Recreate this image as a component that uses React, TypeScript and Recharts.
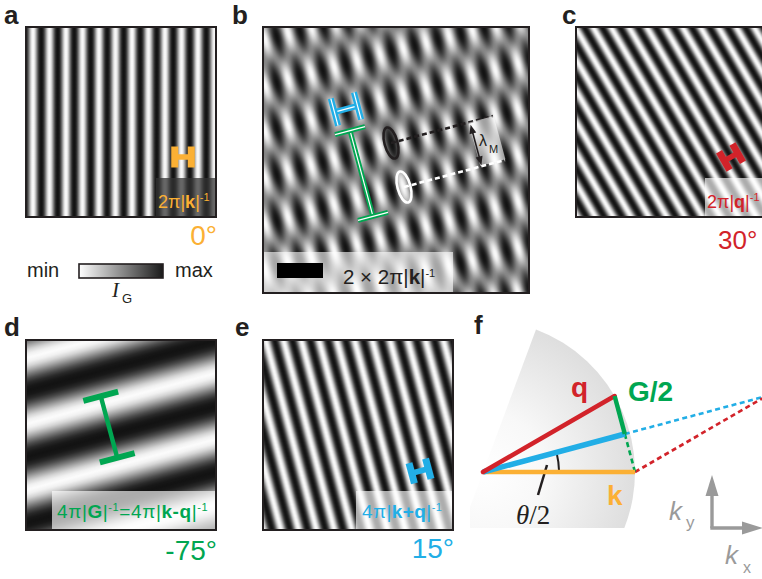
import React from "react";
import {
  ScatterChart,
  Scatter,
  XAxis,
  YAxis,
  ReferenceArea,
  ReferenceLine,
  ReferenceDot,
} from "recharts";

const INK = "#231F20";
const ORANGE = "#FBB034";
const RED = "#D2232A";
const GREEN = "#00A651";
const BLUE = "#22AEE6";
const GREY = "#9A9A9A";
const SANS = "'Liberation Sans', Arial, sans-serif";
const SERIF = "'Liberation Serif', 'Times New Roman', serif";

// single gratings (a, c, d, e): wave-vector angle in degrees, fringe period in units of 2π|k|^-1
const gratingPanels = ["a", "c", "d", "e"];
const gratingAngles = [0, 30, -75, 15];
const gratingPeriods = [1, 1, 3.86, 1.04];
const angleLabels = ["0°", "30°", "-75°", "15°"];

// panel b: k and q gratings added together
const moireAngles = [0, 30];
const moirePeriods = [1, 1];
const fastAngle = 15; // k+q
const fastPeriod = 1.04; // 4π|k+q|^-1
const slowAngle = -75; // G = k-q
const slowPeriod = 3.86; // 4π|G|^-1
const scaleBarUnits = 2; // 2 × 2π|k|^-1

// panel f: wave vectors, |k| = 1
const kVec = { x: 1, y: 0 };
const qVec = { x: 0.866, y: 0.5 };

type Pt = { x: number; y: number };
type Box = { left: number; top: number; size: number; unit: number };

const PAD = 2;
const boxes: Record<string, Box> = {
  a: { left: 26, top: 27, size: 190, unit: 16.5 },
  b: { left: 263, top: 27, size: 266, unit: 23 },
  c: { left: 576, top: 27, size: 190, unit: 15.5 },
  d: { left: 26, top: 340, size: 190, unit: 16.5 },
  e: { left: 263, top: 340, size: 190, unit: 16.5 },
};

const panelStyle: Record<string, any> = {
  a: { color: ORANGE, bar: [183, 157], cap: 21, width: 7, tag: [156, 178, 216, 216], tagFill: "#333", tagOpacity: 0.74, shift: 9 },
  c: { color: RED, bar: [731, 157], cap: 21, width: 7, tag: [705, 178, 766, 216], tagFill: "#fff", tagOpacity: 0.65, shift: 0 },
  d: { color: GREEN, bar: [109, 427], cap: 36, width: 6, tag: [52, 491, 216, 530], tagFill: "#fff", tagOpacity: 0.65, shift: 20 },
  e: { color: BLUE, bar: [420, 471], cap: 21, width: 7, tag: [356, 491, 453, 530], tagFill: "#fff", tagOpacity: 0.65, shift: 4 },
};
const moireShifts = [4.2, -3.6];

const F = { left: 470, top: 300, width: 292, height: 279, unit: 152, ox: 483, oy: 472 };

const noDot = () => <g />;

// bar of given length along the wave vector, with perpendicular end caps
function barSegments(c: Pt, angleDeg: number, length: number, cap: number) {
  const t = (angleDeg * Math.PI) / 180;
  const u = { x: Math.cos(t), y: Math.sin(t) };
  const v = { x: -u.y, y: u.x };
  const end = (s: number) => ({ x: c.x + (u.x * s * length) / 2, y: c.y + (u.y * s * length) / 2 });
  const a = end(-1);
  const b = end(1);
  const tick = (p: Pt) => [
    { x: p.x - (v.x * cap) / 2, y: p.y - (v.y * cap) / 2 },
    { x: p.x + (v.x * cap) / 2, y: p.y + (v.y * cap) / 2 },
  ];
  return [[a, b], tick(a), tick(b)];
}

function gratingPattern(id: string, angle: number, period: number, shift: number) {
  return (
    <pattern
      key={id}
      id={id}
      patternUnits="userSpaceOnUse"
      width={period}
      height={period}
      patternTransform={`rotate(${-angle}) translate(${shift} 0)`}
    >
      <rect width={period} height={period} fill="url(#ramp)" />
    </pattern>
  );
}

function PatternDefs() {
  const stops = [];
  for (let i = 0; i <= 16; i++) {
    const t = i / 16;
    const v = Math.pow((1 + Math.cos(2 * Math.PI * t)) / 2, 1.2);
    const g = Math.round(18 + v * 234);
    stops.push(<stop key={i} offset={t} stopColor={`rgb(${g},${g},${g})`} />);
  }
  return (
    <svg width={0} height={0} style={{ position: "absolute" }}>
      <defs>
        <linearGradient id="ramp" x1="0" y1="0" x2="1" y2="0">
          {stops}
        </linearGradient>
        <linearGradient id="cbar" x1="0" y1="0" x2="1" y2="0">
          <stop offset="0" stopColor="#ffffff" />
          <stop offset="1" stopColor="#1a1a1a" />
        </linearGradient>
        {gratingPanels.map((id, i) =>
          gratingPattern(`grating-${id}`, gratingAngles[i], gratingPeriods[i] * boxes[id].unit, panelStyle[id].shift)
        )}
        {moireAngles.map((a, i) => gratingPattern(`moire-${i}`, a, moirePeriods[i] * boxes.b.unit, moireShifts[i]))}
      </defs>
    </svg>
  );
}

function GratingPanel({ id, i }: { id: string; i: number }) {
  const box = boxes[id];
  const st = panelStyle[id];
  const L = box.size / box.unit;
  const toData = (px: number, py: number) => ({
    x: (px - box.left) / box.unit,
    y: (box.top + box.size - py) / box.unit,
  });
  const c = toData(st.bar[0], st.bar[1]);
  const segs = barSegments(c, gratingAngles[i], gratingPeriods[i], st.cap / box.unit);
  const t0 = toData(st.tag[0], st.tag[3]);
  const t1 = toData(st.tag[2], st.tag[1]);
  return (
    <div style={{ position: "absolute", left: box.left - PAD, top: box.top - PAD }}>
      <ScatterChart
        width={box.size + 2 * PAD}
        height={box.size + 2 * PAD}
        margin={{ top: PAD, right: PAD, bottom: PAD, left: PAD }}
      >
        <XAxis type="number" dataKey="x" domain={[0, L]} hide allowDataOverflow />
        <YAxis type="number" dataKey="y" domain={[0, L]} hide allowDataOverflow />
        <ReferenceArea x1={0} x2={L} y1={0} y2={L} fill={`url(#grating-${id})`} fillOpacity={1} stroke="none" ifOverflow="visible" />
        <ReferenceArea x1={t0.x} x2={t1.x} y1={t0.y} y2={t1.y} fill={st.tagFill} fillOpacity={st.tagOpacity} stroke="none" ifOverflow="visible" />
        <ReferenceArea x1={0} x2={L} y1={0} y2={L} fill="none" fillOpacity={0} stroke={INK} strokeWidth={2} ifOverflow="visible" />
        {segs.map((s, k) => (
          <ReferenceLine key={k} segment={s} stroke={st.color} strokeWidth={k === 0 ? st.width - 1.5 : st.width} ifOverflow="visible" />
        ))}
      </ScatterChart>
    </div>
  );
}

function MoirePanel() {
  const box = boxes.b;
  const L = box.size / box.unit;
  const toB = (px: number, py: number) => ({
    x: (px - box.left) / box.unit,
    y: (box.top + box.size - py) / box.unit,
  });
  const fast = barSegments(toB(346, 109), fastAngle, fastPeriod, 28 / box.unit);
  const slow = barSegments(toB(361.5, 173.5), slowAngle, slowPeriod, 31 / box.unit);
  const barStart = toB(277, 278);
  const tagTop = toB(453, 252);
  const darkSpot = toB(391, 143);
  const lightSpot = toB(404, 187);
  const darkEnd = toB(493, 116);
  const lightEnd = toB(505, 160);
  const spot = (stroke: string) => (p: any) => (
    <ellipse
      cx={p.cx}
      cy={p.cy}
      rx={6.5}
      ry={16}
      transform={`rotate(-15 ${p.cx} ${p.cy})`}
      fill="none"
      stroke={stroke}
      strokeWidth={2.6}
    />
  );
  const periodBox = (p: any) => (
    <rect
      x={p.cx - 13}
      y={p.cy - 22.5}
      width={26}
      height={45}
      transform={`rotate(-15 ${p.cx} ${p.cy})`}
      fill="#fff"
      fillOpacity={0.6}
    />
  );
  const periodArrow = (p: any) => (
    <g transform={`rotate(-15 ${p.cx} ${p.cy})`} fill={INK}>
      <line x1={p.cx} y1={p.cy - 15} x2={p.cx} y2={p.cy + 15} stroke={INK} strokeWidth={1.6} />
      <polygon points={`${p.cx},${p.cy - 21} ${p.cx - 3.5},${p.cy - 12} ${p.cx + 3.5},${p.cy - 12}`} />
      <polygon points={`${p.cx},${p.cy + 21} ${p.cx - 3.5},${p.cy + 12} ${p.cx + 3.5},${p.cy + 12}`} />
    </g>
  );
  const doubleLine = (segs: Pt[][], color: string, w: number, key: string) =>
    segs.flatMap((s, k) => [
      <ReferenceLine key={`${key}${k}o`} segment={s} stroke={color} strokeWidth={w} ifOverflow="visible" />,
      <ReferenceLine key={`${key}${k}i`} segment={s} stroke="#fff" strokeWidth={1.2} ifOverflow="visible" />,
    ]);
  return (
    <div style={{ position: "absolute", left: box.left - PAD, top: box.top - PAD }}>
      <ScatterChart
        width={box.size + 2 * PAD}
        height={box.size + 2 * PAD}
        margin={{ top: PAD, right: PAD, bottom: PAD, left: PAD }}
      >
        <XAxis type="number" dataKey="x" domain={[0, L]} hide allowDataOverflow />
        <YAxis type="number" dataKey="y" domain={[0, L]} hide allowDataOverflow />
        <ReferenceArea x1={0} x2={L} y1={0} y2={L} fill="url(#moire-0)" fillOpacity={1} stroke="none" ifOverflow="visible" />
        <ReferenceArea x1={0} x2={L} y1={0} y2={L} fill="url(#moire-1)" fillOpacity={0.5} stroke="none" ifOverflow="visible" />
        <ReferenceArea x1={0} x2={tagTop.x} y1={0} y2={tagTop.y} fill="#fff" fillOpacity={0.62} stroke="none" ifOverflow="visible" />
        <ReferenceArea
          x1={barStart.x}
          x2={barStart.x + scaleBarUnits}
          y1={barStart.y}
          y2={barStart.y + 15 / box.unit}
          fill="#000"
          fillOpacity={1}
          stroke="none"
          ifOverflow="visible"
        />
        <ReferenceArea x1={0} x2={L} y1={0} y2={L} fill="none" fillOpacity={0} stroke={INK} strokeWidth={2} ifOverflow="visible" />
        <ReferenceDot x={toB(487, 141).x} y={toB(487, 141).y} ifOverflow="visible" shape={periodBox} />
        <ReferenceLine segment={[darkSpot, darkEnd]} stroke={INK} strokeWidth={2.6} strokeDasharray="5 3" ifOverflow="visible" />
        <ReferenceLine segment={[lightSpot, lightEnd]} stroke="#fff" strokeWidth={2.6} strokeDasharray="5 3" ifOverflow="visible" />
        <ReferenceDot x={toB(476, 145).x} y={toB(476, 145).y} ifOverflow="visible" shape={periodArrow} />
        <ReferenceDot x={darkSpot.x} y={darkSpot.y} ifOverflow="visible" shape={spot(INK)} />
        <ReferenceDot x={lightSpot.x} y={lightSpot.y} ifOverflow="visible" shape={spot("#fff")} />
        {doubleLine(fast, BLUE, 6, "f")}
        {doubleLine(slow, GREEN, 5, "s")}
      </ScatterChart>
    </div>
  );
}

function VectorPanel() {
  const o = { x: 0, y: 0 };
  const mid = { x: (kVec.x + qVec.x) / 2, y: (kVec.y + qVec.y) / 2 };
  const sum = { x: kVec.x + qVec.x, y: kVec.y + qVec.y };
  const toF = (px: number, py: number) => ({ x: (px - F.ox) / F.unit, y: (F.oy - py) / F.unit });
  const xDom = [(F.left - F.ox) / F.unit, (F.left + F.width - F.ox) / F.unit];
  const yDom = [(F.oy - F.top - F.height) / F.unit, (F.oy - F.top) / F.unit];
  const dash = "5 3.5";
  const vectors = [
    { data: [mid, sum], stroke: BLUE, w: 2.6, dash },
    { data: [kVec, sum], stroke: RED, w: 2.6, dash },
    { data: [mid, kVec], stroke: GREEN, w: 2.6, dash },
    { data: [o, kVec], stroke: ORANGE, w: 4.5 },
    { data: [o, mid], stroke: BLUE, w: 5.5 },
    { data: [o, qVec], stroke: RED, w: 4.5, cap: "round" },
    { data: [qVec, mid], stroke: GREEN, w: 4.5 },
  ];
  const wedge = (p: any) => {
    const r = p.width;
    const ox = p.x;
    const oy = p.y + p.height;
    const edge = (69.6 * Math.PI) / 180;
    const drop = 0.368 * r;
    const p1 = `${ox + r * Math.cos(edge)},${oy - r * Math.sin(edge)}`;
    const p2 = `${ox + Math.sqrt(r * r - drop * drop)},${oy + drop}`;
    const p3 = `${ox - drop / Math.tan(edge)},${oy + drop}`;
    return (
      <g>
        <defs>
          <radialGradient id="kspace" gradientUnits="userSpaceOnUse" cx={ox} cy={oy} r={r}>
            <stop offset="0" stopColor="#ffffff" />
            <stop offset="0.4" stopColor="#f8f8f8" />
            <stop offset="1" stopColor="#dedede" />
          </radialGradient>
        </defs>
        <path d={`M${p1} A${r},${r} 0 0 1 ${p2} L${p3} Z`} fill="url(#kspace)" />
      </g>
    );
  };
  const halfAngleArc = (p: any) => {
    const r = p.width;
    const ox = p.x;
    const oy = p.y + p.height;
    const a1 = (1.5 * Math.PI) / 180;
    const a2 = (13.5 * Math.PI) / 180;
    return (
      <path
        d={`M${ox + r * Math.cos(a1)},${oy - r * Math.sin(a1)} A${r},${r} 0 0 0 ${ox + r * Math.cos(a2)},${oy - r * Math.sin(a2)}`}
        fill="none"
        stroke={INK}
        strokeWidth={2}
      />
    );
  };
  const arrowUp = (p: any) => (
    <polygon points={`${p.cx},${p.cy} ${p.cx - 6.5},${p.cy + 21} ${p.cx + 6.5},${p.cy + 21}`} fill={GREY} />
  );
  const arrowRight = (p: any) => (
    <polygon points={`${p.cx},${p.cy} ${p.cx - 21},${p.cy - 6.5} ${p.cx - 21},${p.cy + 6.5}`} fill={GREY} />
  );
  const corner = toF(712, 528);
  return (
    <div style={{ position: "absolute", left: F.left, top: F.top }}>
      <ScatterChart width={F.width} height={F.height} margin={{ top: 0, right: 0, bottom: 0, left: 0 }}>
        <XAxis type="number" dataKey="x" domain={xDom} hide allowDataOverflow />
        <YAxis type="number" dataKey="y" domain={yDom} hide allowDataOverflow />
        <ReferenceArea x1={0} x2={kVec.x} y1={0} y2={qVec.y} shape={wedge} ifOverflow="visible" />
        <ReferenceArea x1={0} x2={0.5} y1={0} y2={0.1} shape={halfAngleArc} ifOverflow="visible" />
        {vectors.map((v, k) => (
          <Scatter
            key={k}
            data={v.data}
            shape={noDot}
            isAnimationActive={false}
            line={{
              stroke: v.stroke,
              strokeWidth: v.w,
              strokeDasharray: v.dash,
              strokeLinecap: v.cap || "butt",
            }}
          />
        ))}
        <ReferenceLine segment={[toF(547, 465), toF(538, 495)]} stroke={INK} strokeWidth={2.5} ifOverflow="visible" />
        <ReferenceLine segment={[corner, toF(712, 492)]} stroke={GREY} strokeWidth={3.4} ifOverflow="visible" />
        <ReferenceLine segment={[toF(710.3, 528), toF(745, 528)]} stroke={GREY} strokeWidth={3.4} ifOverflow="visible" />
        <ReferenceDot x={corner.x} y={toF(712, 475).y} ifOverflow="visible" shape={arrowUp} />
        <ReferenceDot x={toF(763, 528).x} y={corner.y} ifOverflow="visible" shape={arrowRight} />
      </ScatterChart>
    </div>
  );
}

// superscript "-1" that sits at the end of a label
const Sup = ({ children }: { children: React.ReactNode }) => (
  <tspan fontSize={11} dy={-7}>
    {children}
  </tspan>
);
const B = ({ children }: { children: React.ReactNode }) => <tspan fontWeight="bold">{children}</tspan>;

function Annotations() {
  const letter = { fontFamily: SANS, fontSize: 26, fontWeight: "bold" as const, fill: INK };
  const degPos = [
    { x: 217, y: 245, anchor: "end", color: ORANGE, size: 28 },
    { x: 718, y: 249, anchor: "start", color: RED, size: 26 },
    { x: 217, y: 560, anchor: "end", color: GREEN, size: 28 },
    { x: 454, y: 558, anchor: "end", color: BLUE, size: 28 },
  ];
  return (
    <svg width={762} height={579} style={{ position: "absolute", left: 0, top: 0, pointerEvents: "none" }}>
      <text x={4} y={24} {...letter}>a</text>
      <text x={232} y={24} {...letter}>b</text>
      <text x={562} y={24} {...letter}>c</text>
      <text x={4} y={336} {...letter}>d</text>
      <text x={235} y={336} {...letter}>e</text>
      <text x={474} y={334} {...letter}>f</text>

      {angleLabels.map((s, i) => (
        <text
          key={s}
          x={degPos[i].x}
          y={degPos[i].y}
          textAnchor={degPos[i].anchor as any}
          fill={degPos[i].color}
          fontFamily={SANS}
          fontSize={degPos[i].size}
        >
          {s}
        </text>
      ))}

      <text x={158} y={208} fontFamily={SANS} fontSize={18} fill={ORANGE}>
        2π|<B>k</B>|<Sup>-1</Sup>
      </text>
      <text x={707} y={208} fontFamily={SANS} fontSize={18} fill={RED}>
        2π|<B>q</B>|<Sup>-1</Sup>
      </text>
      <text x={57} y={518} fontFamily={SANS} fontSize={19} letterSpacing={0.6} fill={GREEN}>
        4π|<B>G</B>|<Sup>-1</Sup>
        <tspan dy={7}>=4π|</tspan>
        <B>k-q</B>|<Sup>-1</Sup>
      </text>
      <text x={362} y={518} fontFamily={SANS} fontSize={19} letterSpacing={0.4} fill={BLUE}>
        4π|<B>k+q</B>|<Sup>-1</Sup>
      </text>
      <text x={343} y={284} fontFamily={SANS} fontSize={20.5} fill={INK}>
        2 × 2π|<B>k</B>|<Sup>-1</Sup>
      </text>
      <text x={479} y={146} fontFamily={SANS} fontSize={16} fill={INK}>λ</text>
      <text x={489} y={153} fontFamily={SANS} fontSize={11} fill={INK}>M</text>

      <text x={27} y={277} fontFamily={SANS} fontSize={20} fill={INK}>min</text>
      <rect x={79} y={264} width={84} height={14} fill="url(#cbar)" stroke={INK} strokeWidth={1.6} />
      <text x={175} y={277} fontFamily={SANS} fontSize={20} fill={INK}>max</text>
      <text x={112} y={297} fontFamily={SERIF} fontStyle="italic" fontSize={21} fill={INK}>I</text>
      <text x={122} y={303} fontFamily={SANS} fontSize={13} fill={INK}>G</text>

      <text x={571} y={397} fontFamily={SANS} fontSize={28} fontWeight="bold" fill={RED}>q</text>
      <text x={628} y={401} fontFamily={SANS} fontSize={28} fontWeight="bold" fill={GREEN}>G/2</text>
      <text x={607} y={505} fontFamily={SANS} fontSize={28} fontWeight="bold" fill={ORANGE}>k</text>
      <text x={516} y={524} fontFamily={SERIF} fontSize={27} fill={INK}>
        <tspan fontStyle="italic">θ</tspan>/2
      </text>
      <text x={669} y={520} fontFamily={SANS} fontStyle="italic" fontSize={26} fill={GREY}>k</text>
      <text x={686} y={528} fontFamily={SANS} fontSize={17} fill={GREY}>y</text>
      <text x={725} y={564} fontFamily={SANS} fontStyle="italic" fontSize={26} fill={GREY}>k</text>
      <text x={743} y={573} fontFamily={SANS} fontSize={16} fill={GREY}>x</text>
    </svg>
  );
}

export default function App() {
  return (
    <div
      style={{
        position: "absolute",
        left: 0,
        top: 0,
        width: 762,
        height: 579,
        overflow: "hidden",
        background: "#fff",
      }}
    >
      <PatternDefs />
      {gratingPanels.map((id, i) => (
        <GratingPanel key={id} id={id} i={i} />
      ))}
      <MoirePanel />
      <VectorPanel />
      <Annotations />
    </div>
  );
}
